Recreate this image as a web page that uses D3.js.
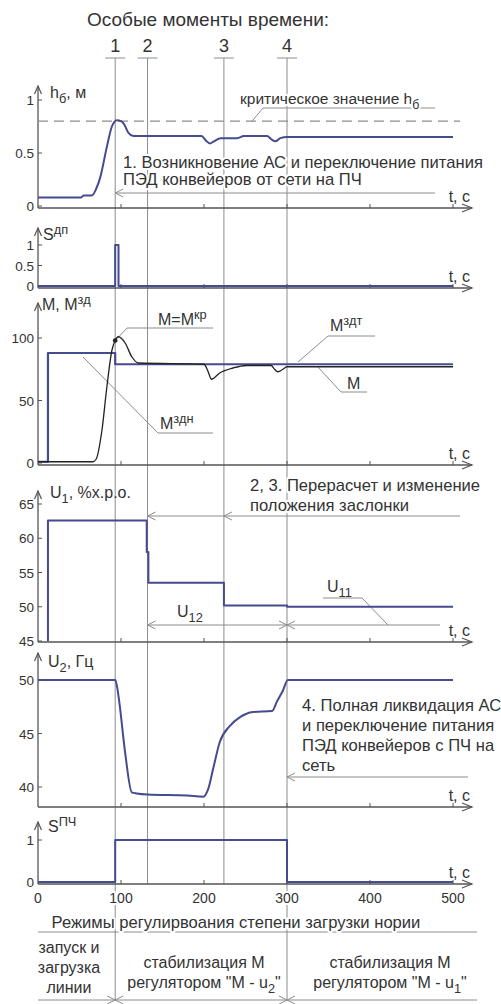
<!DOCTYPE html>
<html><head><meta charset="utf-8">
<script src="https://cdn.jsdelivr.net/npm/d3@7"></script>
<style>
html,body{margin:0;padding:0;background:#fff;}
text{font-family:"Liberation Sans",Arial,sans-serif;fill:#333;}
</style></head>
<body>
<svg id="c" width="501" height="1004"></svg>
<script>
// ---------- DATA ----------
const eventTimes = [93, 132, 224, 300];
const eventLabels = ["1", "2", "3", "4"];
const xTicks = [0, 100, 200, 300, 400, 500];

// h_б (m)
const tH = [0, 52, 55, 65, 70, 75, 83, 89, 95, 100, 103, 109, 115, 197, 202, 207, 212, 220, 240, 248, 276, 281, 286, 292, 300, 500];
const hVals = [0.08, 0.08, 0.10, 0.10, 0.16, 0.27, 0.56, 0.75, 0.81, 0.80, 0.78, 0.69, 0.66, 0.66, 0.62, 0.59, 0.61, 0.64, 0.64, 0.66, 0.66, 0.63, 0.61, 0.64, 0.65, 0.65];
const hCritical = 0.8;
const hTicks = [0, 0.5, 1];

// S^дп
const tSdp = [0, 93, 93, 97, 97, 500];
const sdpVals = [0, 0, 1, 1, 0, 0];
const sTicks = [0, 0.5, 1];

// M^зд and M
const tMzd = [0, 12, 12, 93, 93, 500];
const mzdVals = [1, 1, 88, 88, 79, 79];
const tM = [0, 66, 70, 77, 83, 89, 93, 97, 105, 113, 121, 200, 205, 209, 219, 235, 251, 281, 285, 289, 295, 300, 500];
const mVals = [1, 1, 3, 26, 61, 90, 98, 101, 96, 85, 80, 79, 73, 67, 72, 76, 78, 78, 75, 73, 75, 77, 77];
const mTicks = [0, 50, 100];

// U1
const tU1 = [12, 12, 131, 131, 133, 133, 224, 224, 300, 300, 500];
const u1Vals = [45, 62.6, 62.6, 58, 58, 53.5, 53.5, 50.2, 50.2, 50, 50];
const u1Ticks = [45, 50, 55, 60, 65];

// U2
const tU2 = [0, 93, 95, 98, 105, 113, 119, 132, 180, 199, 205, 211, 219, 231, 243, 259, 282, 288, 295, 301, 500];
const u2Vals = [50, 50, 49.5, 47.9, 43.2, 39.5, 39.4, 39.3, 39.2, 39.1, 39.8, 41.7, 44.2, 45.7, 46.5, 47.0, 47.1, 48.0, 49.0, 50, 50];
const u2Ticks = [40, 45, 50];

// S^ПЧ
const tSpch = [0, 93, 93, 300, 300, 500];
const spchVals = [0, 0, 1, 1, 0, 0];
const spchTicks = [0, 1];

// ---------- DRAW ----------
const svg = d3.select("#c");
const gray = "#8c8c8c", blue = "#454b8f";
const x = d3.scaleLinear().domain([0, 500]).range([38, 453]);

const panels = [
  {y: d3.scaleLinear().domain([0, 1]).range([206, 100]), axisY: 208, top: 86, ticks: hTicks},
  {y: d3.scaleLinear().domain([0, 1]).range([286, 245]), axisY: 288, top: 228, ticks: sTicks},
  {y: d3.scaleLinear().domain([0, 100]).range([463, 338]), axisY: 465, top: 303, ticks: mTicks},
  {y: d3.scaleLinear().domain([45, 65]).range([641, 504]), axisY: 642, top: 491, ticks: u1Ticks},
  {y: d3.scaleLinear().domain([40, 50]).range([787, 680]), axisY: 807, top: 653, ticks: u2Ticks},
  {y: d3.scaleLinear().domain([0, 1]).range([882, 840]), axisY: 884, top: 822, ticks: spchTicks}
];

function line(g, x1, y1, x2, y2, col, w, dash) {
  const l = g.append("line").attr("x1", x1).attr("y1", y1).attr("x2", x2).attr("y2", y2)
    .attr("stroke", col || gray).attr("stroke-width", w || 1);
  if (dash) l.attr("stroke-dasharray", dash);
  return l;
}
function arrowH(g, xx, yy, dir, col) {
  g.append("path").attr("d", `M${xx - dir * 8},${yy - 4}L${xx},${yy}L${xx - dir * 8},${yy + 4}`)
    .attr("fill", "none").attr("stroke", col || gray).attr("stroke-width", 1);
}
function txt(g, xx, yy, parts, size, opts) {
  opts = opts || {};
  const t = g.append("text").attr("x", xx).attr("y", yy).attr("font-size", size)
    .attr("text-anchor", opts.anchor || "start");
  if (opts.halo) t.attr("stroke", "#fff").attr("stroke-width", 4).attr("paint-order", "stroke").attr("stroke-linejoin", "round");
  if (typeof parts === "string") parts = [[parts, ""]];
  let cur = 0;
  parts.forEach(([s, m]) => {
    let target = m === "sub" ? size * 0.3 : m === "sup" ? -size * 0.4 : 0;
    const ts = t.append("tspan").text(s).attr("dy", target - cur);
    if (m) ts.attr("font-size", size * 0.8);
    cur = target;
  });
  return t;
}

const gLines = svg.append("g");
const gData = svg.append("g");
const gText = svg.append("g");

txt(gText, 208, 26, "Особые моменты времени:", 19, {anchor: "middle"});

eventTimes.forEach((t, i) => {
  const xx = x(t);
  const bottom = (i === 0 || i === 3) ? 1000 : 884;
  line(gLines, xx, 58, xx, bottom, gray, 1);
  line(gLines, xx - 10, 58, xx + 10, 58, gray, 1);
  txt(gText, xx, 52, eventLabels[i], 18, {anchor: "middle"});
});

panels.forEach(p => {
  line(gLines, 38, p.top, 38, p.axisY, "#555", 1.3);
  line(gLines, 38, p.axisY, 472, p.axisY, "#555", 1.3);
  gLines.append("path").attr("d", `M34.5,${p.top + 8}L38,${p.top}L41.5,${p.top + 8}`).attr("fill", "none").attr("stroke", "#555").attr("stroke-width", 1.2);
  gLines.append("path").attr("d", `M462,${p.axisY - 4}L472,${p.axisY}L462,${p.axisY + 4}`).attr("fill", "none").attr("stroke", "#555").attr("stroke-width", 1.2);
  xTicks.slice(1).forEach(t => line(gLines, x(t), p.axisY - 4, x(t), p.axisY, "#555", 1));
  p.ticks.forEach(v => {
    line(gLines, 38, p.y(v), 42, p.y(v), "#555", 1);
    txt(gText, 34, p.y(v) + 5, String(v), 13.5, {anchor: "end"});
  });
  txt(gText, 470, p.axisY - 6, "t, с", 16, {anchor: "end"});
});

xTicks.forEach(t => txt(gText, x(t), 903, String(t), 14, {anchor: "middle", halo: true}));

function series(ts, vs, yScale, col, w, curve) {
  const pts = ts.map((t, i) => [x(t), yScale(vs[i])]);
  gData.append("path").attr("d", d3.line().curve(curve || d3.curveLinear)(pts))
    .attr("fill", "none").attr("stroke", col).attr("stroke-width", w).attr("stroke-linejoin", "round");
}
const P = panels;
series(tH, hVals, P[0].y, blue, 2, d3.curveMonotoneX);
series(tSdp, sdpVals, P[1].y, blue, 2);
series(tMzd, mzdVals, P[2].y, blue, 2.2);
series(tM, mVals, P[2].y, "#222", 1.3, d3.curveMonotoneX);
series(tU1, u1Vals, P[3].y, blue, 2);
series(tU2, u2Vals, P[4].y, blue, 2, d3.curveMonotoneX);
series(tSpch, spchVals, P[5].y, blue, 2);

// Panel 1
const yc = P[0].y(hCritical);
line(gLines, 38, yc, 460, yc, gray, 1.2, "10,6");
line(gLines, 252, yc, 263, 108, gray, 1);
line(gLines, 263, 108, 435, 108, gray, 1);
txt(gText, 240, 104, [["критическое значение h", ""], ["б", "sub"]], 15.5, {halo: true});
txt(gText, 50, 98, [["h", ""], ["б", "sub"], [", м", ""]], 16);
txt(gText, 123, 168, "1. Возникновение АС и переключение питания", 16.6, {halo: true});
txt(gText, 123, 185, "ПЭД конвейеров от сети на ПЧ", 16.6, {halo: true});
line(gLines, x(93), 193, 435, 193, gray, 1);
arrowH(gLines, x(93), 193, -1);

// Panel 2
txt(gText, 43, 240, [["S", ""], ["дп", "sup"]], 16);

// Panel 3
txt(gText, 42, 310, [["M, M", ""], ["зд", "sup"]], 16);
gData.append("circle").attr("cx", x(93)).attr("cy", P[2].y(98)).attr("r", 2.3).attr("fill", "#222");
line(gLines, x(93) + 2, P[2].y(98) - 2, 127, 328, gray, 1);
line(gLines, 127, 328, 213, 328, gray, 1);
txt(gText, 158, 325, [["M=M", ""], ["кр", "sup"]], 16);
line(gLines, 298, 362, 328, 336, gray, 1);
line(gLines, 328, 336, 375, 336, gray, 1);
txt(gText, 330, 331, [["M", ""], ["здт", "sup"]], 16);
line(gLines, 317, 366, 341, 392, gray, 1);
line(gLines, 341, 392, 367, 392, gray, 1);
txt(gText, 347, 389, "M", 16);
line(gLines, 83, 357, 158, 433, gray, 1);
line(gLines, 158, 433, 213, 433, gray, 1);
txt(gText, 160, 429, [["M", ""], ["здн", "sup"]], 16);

// Panel 4
txt(gText, 50, 498, [["U", ""], ["1", "sub"], [", %х.р.о.", ""]], 16);
txt(gText, 250, 491, "2, 3. Перерасчет и изменение", 16.6, {halo: true});
txt(gText, 250, 511, "положения заслонки", 16.6, {halo: true});
line(gLines, x(132), 516, 460, 516, gray, 1);
arrowH(gLines, x(132), 516, -1);
arrowH(gLines, x(224), 516, -1);
txt(gText, 177, 617, [["U", ""], ["12", "sub"]], 16);
line(gLines, x(132), 625, x(300), 625, gray, 1);
arrowH(gLines, x(132), 625, -1);
arrowH(gLines, x(300), 625, 1);
line(gLines, x(300), 625, 440, 625, gray, 1);
arrowH(gLines, x(300), 625, -1);
txt(gText, 327, 592, [["U", ""], ["11", "sub"]], 16);
line(gLines, 323, 598, 362, 598, gray, 1);
line(gLines, 362, 598, 388, 625, gray, 1);

// Panel 5
txt(gText, 48, 667, [["U", ""], ["2", "sub"], [", Гц", ""]], 16);
["4. Полная ликвидация АС", "и переключение питания", "ПЭД конвейеров с ПЧ на", "сеть"]
  .forEach((s, i) => txt(gText, 302, 711 + i * 20, s, 16.6, {halo: true}));
line(gLines, x(300), 777, 468, 777, gray, 1);
arrowH(gLines, x(300), 777, -1);

// Panel 6
txt(gText, 48, 832, [["S", ""], ["ПЧ", "sup"]], 16);

// Table
txt(gText, 236, 928, "Режимы регулирвоания степени загрузки нории", 16.6, {anchor: "middle", halo: true});
line(gLines, 38, 932, 477, 932, gray, 1);
line(gLines, 38, 1000, 477, 1000, gray, 1);
[x(93), x(300)].forEach(xx => { arrowH(gLines, xx, 1000, -1); arrowH(gLines, xx, 1000, 1); });
["запуск и", "загрузка", "линии"].forEach((s, i) => txt(gText, 69, 953 + i * 20, s, 16, {anchor: "middle"}));
txt(gText, 204, 968, "стабилизация М", 16, {anchor: "middle"});
txt(gText, 204, 988, [["регулятором \"М - u", ""], ["2", "sub"], ["\"", ""]], 16, {anchor: "middle"});
txt(gText, 390, 968, "стабилизация М", 16, {anchor: "middle"});
txt(gText, 390, 988, [["регулятором \"М - u", ""], ["1", "sub"], ["\"", ""]], 16, {anchor: "middle"});
</script>
</body></html>
